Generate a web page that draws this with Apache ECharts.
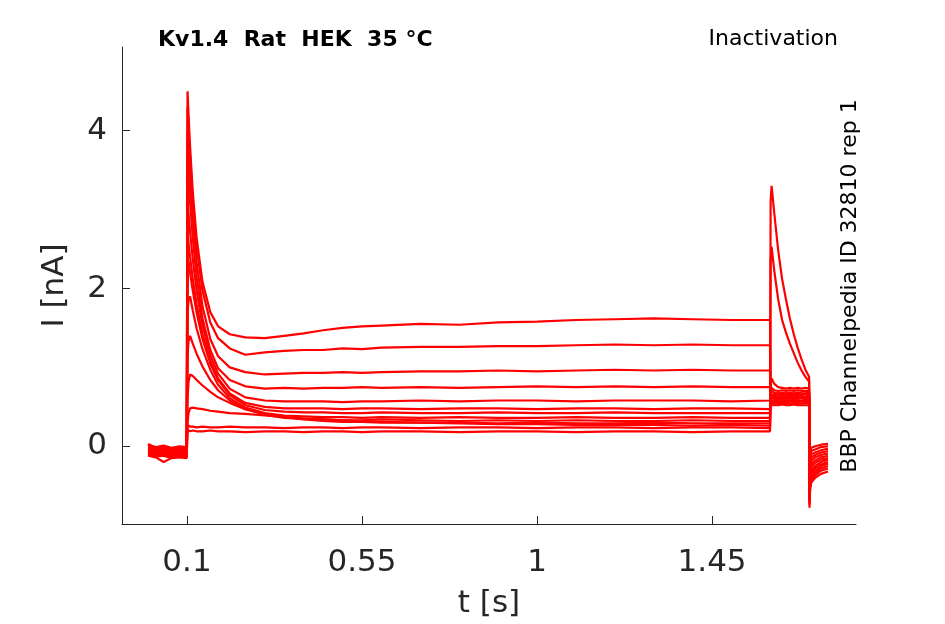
<!DOCTYPE html>
<html lang="en">
<head>
  <meta charset="UTF-8">
  <title>Kv1.4 Rat HEK 35 °C - Inactivation</title>
  <script src="https://cdn.jsdelivr.net/npm/echarts@6/dist/echarts.min.js"></script>
  <style>
    html, body { margin: 0; padding: 0; background: #ffffff; }
    #chart { width: 945px; height: 624px; }
  </style>
</head>
<body>
  <div id="chart"></div>
  <script>
    // time points (s) for each part of the protocol
    const tBase = [0.0, 0.02, 0.04, 0.06, 0.08, 0.0995];
    const tPre = [0.1015, 0.104, 0.108, 0.115, 0.125, 0.14, 0.16, 0.18, 0.21, 0.25, 0.30, 0.35, 0.40];
    const tPlat = [0.45, 0.50, 0.55, 0.60, 0.70, 0.80, 0.90, 1.00, 1.10, 1.20, 1.30, 1.40, 1.50, 1.599];
    const tTest = [1.6005, 1.603, 1.61, 1.62, 1.63, 1.64, 1.65, 1.66, 1.67, 1.68, 1.69, 1.6995];
    const tTail = [1.7005, 1.702, 1.705, 1.715, 1.73, 1.748];

    // current (nA), one row per sweep
    const baseI = [
      [-0.02, -0.05, -0.03, -0.06, -0.04, -0.05],
      [-0.04, -0.07, -0.05, -0.08, -0.06, -0.06],
      [0.03, -0.02, 0.00, -0.03, -0.01, -0.02],
      [-0.06, -0.09, -0.07, -0.10, -0.08, -0.08],
      [-0.08, -0.11, -0.10, -0.12, -0.10, -0.11],
      [-0.10, -0.13, -0.12, -0.15, -0.12, -0.13],
      [0.00, -0.03, -0.02, -0.04, -0.02, -0.03],
      [-0.12, -0.14, -0.20, -0.15, -0.14, -0.15],
      [-0.05, -0.08, -0.06, -0.09, -0.07, -0.07],
      [-0.03, -0.06, -0.04, -0.07, -0.05, -0.04],
      [-0.09, -0.12, -0.10, -0.13, -0.11, -0.12],
      [0.02, -0.01, 0.01, -0.02, 0.00, -0.01],
      [-0.07, -0.10, -0.08, -0.11, -0.09, -0.09]
    ];
    const preI = [
      [4.50, 4.21, 3.80, 3.22, 2.63, 2.08, 1.70, 1.52, 1.42, 1.38, 1.37, 1.40, 1.43],
      [4.30, 4.03, 3.65, 3.11, 2.53, 1.97, 1.57, 1.37, 1.24, 1.16, 1.19, 1.21, 1.22],
      [4.00, 3.75, 3.40, 2.88, 2.33, 1.77, 1.36, 1.14, 1.00, 0.94, 0.91, 0.92, 0.93],
      [3.60, 3.39, 3.09, 2.64, 2.14, 1.62, 1.22, 0.99, 0.84, 0.76, 0.73, 0.74, 0.73],
      [3.10, 2.95, 2.72, 2.37, 1.97, 1.53, 1.15, 0.92, 0.73, 0.62, 0.58, 0.57, 0.57],
      [2.70, 2.58, 2.40, 2.12, 1.79, 1.42, 1.08, 0.86, 0.67, 0.55, 0.50, 0.48, 0.48],
      [2.30, 2.35, 2.20, 1.97, 1.69, 1.36, 1.05, 0.84, 0.65, 0.52, 0.46, 0.44, 0.43],
      [1.70, 1.85, 1.90, 1.72, 1.49, 1.23, 0.97, 0.78, 0.61, 0.49, 0.42, 0.39, 0.38],
      [1.15, 1.33, 1.40, 1.30, 1.17, 1.01, 0.84, 0.71, 0.58, 0.47, 0.40, 0.36, 0.35],
      [0.60, 0.82, 0.91, 0.89, 0.84, 0.77, 0.69, 0.62, 0.55, 0.47, 0.41, 0.37, 0.34],
      [0.30, 0.42, 0.48, 0.49, 0.48, 0.47, 0.45, 0.44, 0.42, 0.41, 0.39, 0.37, 0.35],
      [0.27, 0.26, 0.25, 0.25, 0.24, 0.25, 0.24, 0.24, 0.25, 0.24, 0.24, 0.23, 0.24],
      [0.21, 0.20, 0.19, 0.20, 0.19, 0.19, 0.20, 0.19, 0.19, 0.18, 0.19, 0.19, 0.18]
    ];
    const platI = [
      [1.47, 1.50, 1.52, 1.53, 1.55, 1.54, 1.57, 1.58, 1.60, 1.61, 1.62, 1.61, 1.60, 1.60],
      [1.22, 1.24, 1.23, 1.25, 1.26, 1.26, 1.27, 1.27, 1.28, 1.29, 1.28, 1.29, 1.28, 1.28],
      [0.93, 0.94, 0.93, 0.94, 0.95, 0.95, 0.96, 0.95, 0.96, 0.97, 0.96, 0.97, 0.96, 0.96],
      [0.74, 0.74, 0.75, 0.74, 0.75, 0.74, 0.75, 0.76, 0.75, 0.76, 0.75, 0.76, 0.75, 0.75],
      [0.57, 0.56, 0.57, 0.57, 0.58, 0.57, 0.58, 0.58, 0.57, 0.58, 0.58, 0.58, 0.57, 0.58],
      [0.48, 0.47, 0.48, 0.48, 0.47, 0.48, 0.48, 0.47, 0.48, 0.48, 0.47, 0.48, 0.48, 0.47],
      [0.43, 0.42, 0.42, 0.43, 0.42, 0.42, 0.43, 0.42, 0.42, 0.43, 0.42, 0.42, 0.42, 0.42],
      [0.37, 0.37, 0.36, 0.37, 0.36, 0.37, 0.36, 0.36, 0.37, 0.36, 0.36, 0.37, 0.36, 0.36],
      [0.34, 0.33, 0.33, 0.34, 0.33, 0.32, 0.33, 0.32, 0.33, 0.32, 0.32, 0.33, 0.32, 0.32],
      [0.32, 0.31, 0.31, 0.30, 0.30, 0.30, 0.29, 0.30, 0.29, 0.29, 0.30, 0.29, 0.29, 0.29],
      [0.34, 0.33, 0.32, 0.31, 0.30, 0.29, 0.28, 0.28, 0.27, 0.27, 0.27, 0.26, 0.27, 0.26],
      [0.24, 0.23, 0.24, 0.24, 0.23, 0.24, 0.24, 0.23, 0.24, 0.24, 0.23, 0.24, 0.24, 0.23],
      [0.19, 0.19, 0.18, 0.19, 0.19, 0.18, 0.19, 0.19, 0.18, 0.19, 0.19, 0.18, 0.19, 0.19]
    ];
    const testI = [
      [0.52, 0.53, 0.52, 0.52, 0.53, 0.52, 0.52, 0.53, 0.52, 0.52, 0.52, 0.52],
      [0.54, 0.55, 0.54, 0.54, 0.55, 0.54, 0.54, 0.55, 0.54, 0.54, 0.55, 0.54],
      [0.56, 0.57, 0.56, 0.56, 0.57, 0.56, 0.57, 0.56, 0.56, 0.57, 0.56, 0.56],
      [0.58, 0.59, 0.58, 0.58, 0.59, 0.58, 0.58, 0.59, 0.58, 0.58, 0.59, 0.58],
      [0.60, 0.61, 0.60, 0.60, 0.61, 0.60, 0.60, 0.61, 0.60, 0.61, 0.60, 0.60],
      [0.62, 0.63, 0.62, 0.62, 0.63, 0.62, 0.63, 0.62, 0.62, 0.63, 0.62, 0.62],
      [0.63, 0.65, 0.64, 0.63, 0.64, 0.63, 0.64, 0.63, 0.64, 0.63, 0.63, 0.64],
      [0.65, 0.67, 0.66, 0.65, 0.66, 0.65, 0.66, 0.65, 0.66, 0.65, 0.66, 0.65],
      [0.67, 0.70, 0.68, 0.67, 0.68, 0.67, 0.68, 0.67, 0.68, 0.67, 0.67, 0.68],
      [0.70, 0.74, 0.71, 0.70, 0.71, 0.70, 0.71, 0.70, 0.71, 0.70, 0.70, 0.70],
      [0.80, 0.86, 0.79, 0.75, 0.74, 0.73, 0.74, 0.73, 0.74, 0.73, 0.74, 0.73],
      [2.35, 2.53, 2.22, 1.86, 1.60, 1.44, 1.30, 1.18, 1.06, 0.96, 0.88, 0.82],
      [3.10, 3.30, 2.95, 2.48, 2.12, 1.86, 1.62, 1.42, 1.25, 1.10, 0.97, 0.88]
    ];
    const tailI = [
      [-0.45, -0.10, -0.02, 0.00, 0.02, 0.03],
      [-0.48, -0.14, -0.06, -0.04, -0.01, 0.00],
      [-0.50, -0.18, -0.10, -0.08, -0.05, -0.03],
      [-0.53, -0.22, -0.14, -0.11, -0.08, -0.06],
      [-0.55, -0.26, -0.18, -0.14, -0.11, -0.09],
      [-0.58, -0.30, -0.22, -0.18, -0.14, -0.12],
      [-0.60, -0.34, -0.26, -0.21, -0.17, -0.15],
      [-0.63, -0.38, -0.30, -0.25, -0.20, -0.17],
      [-0.65, -0.41, -0.33, -0.28, -0.23, -0.20],
      [-0.68, -0.44, -0.36, -0.31, -0.25, -0.22],
      [-0.71, -0.48, -0.40, -0.34, -0.28, -0.25],
      [-0.74, -0.51, -0.43, -0.37, -0.31, -0.28],
      [-0.78, -0.55, -0.46, -0.40, -0.35, -0.32]
    ];

    const xTicks = [0.1, 0.55, 1, 1.45];
    const yTicks = [0, 2, 4];

    function sweep(k) {
      const pts = [];
      const parts = [[tBase, baseI], [tPre, preI], [tPlat, platI], [tTest, testI], [tTail, tailI]];
      parts.forEach(function (p) {
        p[0].forEach(function (t, j) { pts.push([t, p[1][k][j]]); });
      });
      return pts;
    }

    const series = baseI.map(function (_, k) {
      return {
        type: 'line',
        data: sweep(k),
        showSymbol: false,
        silent: true,
        lineStyle: { color: '#ff0000', width: 2.2 },
        z: 2
      };
    });

    const axisColor = '#262626';
    const chart = echarts.init(document.getElementById('chart'));
    chart.setOption({
      animation: false,
      backgroundColor: '#ffffff',
      grid: { left: 122, right: 89, top: 47, bottom: 98 },
      xAxis: {
        type: 'value',
        min: -0.067,
        max: 1.82,
        name: 't [s]',
        nameLocation: 'middle',
        nameGap: 64,
        nameTextStyle: { fontFamily: 'DejaVu Sans', fontSize: 31, color: axisColor },
        axisLine: { onZero: false, lineStyle: { color: axisColor, width: 1 } },
        axisTick: { inside: true, length: 8, customValues: xTicks, lineStyle: { color: axisColor } },
        axisLabel: { customValues: xTicks, margin: 23, fontFamily: 'DejaVu Sans', fontSize: 31, color: axisColor },
        splitLine: { show: false }
      },
      yAxis: {
        type: 'value',
        min: -0.985,
        max: 5.06,
        name: 'I [nA]',
        nameLocation: 'middle',
        nameGap: 52,
        nameTextStyle: { fontFamily: 'DejaVu Sans', fontSize: 31, color: axisColor },
        axisLine: { show: true, onZero: false, lineStyle: { color: axisColor, width: 1 } },
        axisTick: { show: true, inside: true, length: 8, customValues: yTicks, lineStyle: { color: axisColor } },
        axisLabel: { customValues: yTicks, margin: 15, fontFamily: 'DejaVu Sans', fontSize: 31, color: axisColor },
        splitLine: { show: false }
      },
      graphic: [
        {
          type: 'text', left: 158, top: 29,
          style: { text: 'Kv1.4  Rat  HEK  35 °C', font: 'bold 22px "DejaVu Sans"', fill: '#000000' }
        },
        {
          type: 'text', right: 107, top: 28,
          style: { text: 'Inactivation', font: '22px "DejaVu Sans"', fill: '#000000' }
        },
        {
          type: 'text', x: 850, y: 286, rotation: Math.PI / 2,
          style: {
            text: 'BBP Channelpedia ID 32810 rep 1', font: '22px "DejaVu Sans"', fill: '#000000',
            align: 'center', verticalAlign: 'middle'
          }
        }
      ],
      series: series
    });
  </script>
</body>
</html>
